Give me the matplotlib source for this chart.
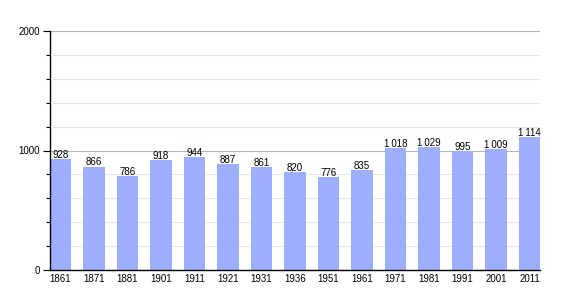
import matplotlib
matplotlib.use("Agg")
import matplotlib.pyplot as plt
from matplotlib.ticker import MultipleLocator

years = ["1861", "1871", "1881", "1901", "1911", "1921", "1931", "1936",
         "1951", "1961", "1971", "1981", "1991", "2001", "2011"]
population = [928, 866, 786, 918, 944, 887, 861, 820, 776, 835,
              1018, 1029, 995, 1009, 1114]

plt.rcParams['font.family'] = ['Liberation Sans', 'DejaVu Sans']

fig = plt.figure(figsize=(5.7, 3.0), dpi=100)
ax = fig.add_axes([50/570, 30/300, 490/570, 239/300])

bw = 0.63
x = list(range(len(years)))
ax.bar(x, population, width=bw, align='edge', color='#9daffc', zorder=2)
ax.set_xlim(0, len(years) - 1 + bw)
ax.set_ylim(0, 2000)

for xi, v in zip(x, population):
    s = f"{v:,}".replace(",", "\u2009")
    ax.text(xi + bw/2, v - 8, s, ha='center', va='bottom', fontsize=7, color='black', zorder=3)

ax.set_xticks([xi + bw/2 for xi in x])
ax.set_xticklabels(years, fontsize=7)
ax.tick_params(axis='x', length=0, pad=3)

ax.yaxis.set_major_locator(MultipleLocator(1000))
ax.yaxis.set_minor_locator(MultipleLocator(200))
ax.tick_params(axis='y', which='major', length=5, width=0.8, labelsize=7, pad=2)
ax.tick_params(axis='y', which='minor', length=3, width=0.8)

ax.grid(axis='y', which='major', color='#b4b4b4', linewidth=0.8, zorder=0)
ax.grid(axis='y', which='minor', color='#e6e6e6', linewidth=0.8, zorder=0)

for s in ['top', 'right']:
    ax.spines[s].set_visible(False)
ax.spines['left'].set_linewidth(1.0)
ax.spines['bottom'].set_linewidth(1.0)

fig.savefig("out.png", dpi=100)
